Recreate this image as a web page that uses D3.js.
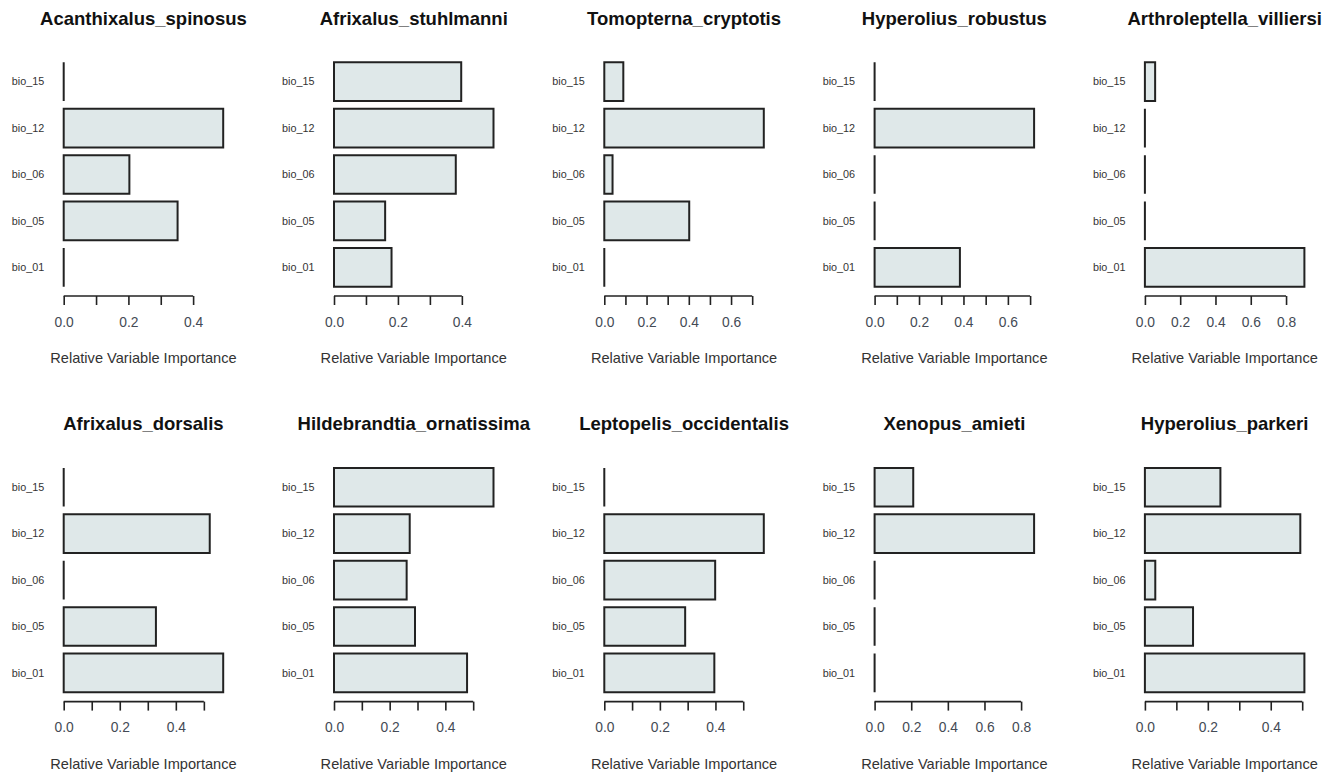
<!DOCTYPE html>
<html>
<head>
<meta charset="utf-8">
<script src="https://cdn.jsdelivr.net/npm/d3@7"></script>
<style>
  body { margin: 0; background: #fff; }
  text { font-family: "Liberation Sans", Arial, sans-serif; }
</style>
</head>
<body>
<div id="chart"></div>
<script>
// variables, top to bottom
var variables = ["bio_15", "bio_12", "bio_06", "bio_05", "bio_01"];

var species = [
  "Acanthixalus_spinosus", "Afrixalus_stuhlmanni", "Tomopterna_cryptotis",
  "Hyperolius_robustus", "Arthroleptella_villiersi",
  "Afrixalus_dorsalis", "Hildebrandtia_ornatissima", "Leptopelis_occidentalis",
  "Xenopus_amieti", "Hyperolius_parkeri"
];

// importance per species, same order as variables
var importance = [
  [0.000, 0.493, 0.203, 0.352, 0.000],
  [0.398, 0.499, 0.381, 0.160, 0.180],
  [0.090, 0.755, 0.039, 0.402, 0.000],
  [0.000, 0.718, 0.000, 0.000, 0.384],
  [0.058, 0.000, 0.000, 0.000, 0.904],
  [0.000, 0.521, 0.000, 0.329, 0.569],
  [0.573, 0.272, 0.261, 0.291, 0.478],
  [0.000, 0.574, 0.399, 0.291, 0.396],
  [0.211, 0.871, 0.000, 0.000, 0.000],
  [0.240, 0.494, 0.033, 0.153, 0.507]
];

// axis ticks per panel
var ticks = [
  [0, 0.1, 0.2, 0.3, 0.4],
  [0, 0.1, 0.2, 0.3, 0.4],
  [0, 0.1, 0.2, 0.3, 0.4, 0.5, 0.6, 0.7],
  [0, 0.1, 0.2, 0.3, 0.4, 0.5, 0.6, 0.7],
  [0, 0.2, 0.4, 0.6, 0.8],
  [0, 0.1, 0.2, 0.3, 0.4, 0.5],
  [0, 0.1, 0.2, 0.3, 0.4, 0.5],
  [0, 0.1, 0.2, 0.3, 0.4, 0.5],
  [0, 0.2, 0.4, 0.6, 0.8],
  [0, 0.1, 0.2, 0.3, 0.4, 0.5]
];

var W = 1336, H = 774;
var plotW = 159.5;
var colStep = 270.3, rowStep = 405.6;

var svg = d3.select("#chart").append("svg")
    .attr("width", W)
    .attr("height", H);

species.forEach(function(name, i) {
  var col = i % 5, row = Math.floor(i / 5);
  var g = svg.append("g")
      .attr("transform", "translate(" + (63.7 + col * colStep) + "," + (row * rowStep) + ")");

  var vals = importance[i];
  var x = d3.scaleLinear()
      .domain([0, d3.max(vals)])
      .range([0, plotW]);

  var y = d3.scaleBand()
      .domain(variables)
      .range([62.3, 286.7])
      .paddingInner(0.2 / 1.2)
      .paddingOuter(0);

  // bars as paths so zero values still show as a line
  g.selectAll(".bar")
      .data(variables)
      .enter().append("path")
      .attr("class", "bar")
      .attr("d", function(d, j) {
        var x0 = x(0), x1 = x(vals[j]), y0 = y(d), y1 = y(d) + y.bandwidth();
        return "M" + x0 + "," + y0 + "H" + x1 + "V" + y1 + "H" + x0 + "Z";
      })
      .attr("fill", "#dfe8e9")
      .attr("stroke", "#222")
      .attr("stroke-width", 2);

  // variable labels
  g.selectAll(".ylab")
      .data(variables)
      .enter().append("text")
      .attr("class", "ylab")
      .attr("x", -19.5)
      .attr("y", function(d) { return y(d) + y.bandwidth() / 2; })
      .attr("dy", "0.35em")
      .attr("text-anchor", "end")
      .attr("font-size", 10.8)
      .attr("fill", "#333")
      .text(function(d) { return d; });

  // x axis
  var xAxis = d3.axisBottom(x)
      .tickValues(ticks[i])
      .tickSize(9)
      .tickSizeOuter(0)
      .tickPadding(12)
      .tickFormat(function(d) {
        return Math.round(d * 10) % 2 === 0 ? d3.format(".1f")(d) : "";
      });

  var ax = g.append("g")
      .attr("transform", "translate(0,296)")
      .call(xAxis);
  ax.select(".domain")
      .attr("d", "M0,0H" + x(d3.max(ticks[i])))
      .attr("stroke", "#222")
      .attr("stroke-width", 1.6);
  ax.selectAll(".tick line")
      .attr("stroke", "#222")
      .attr("stroke-width", 1.6);
  ax.selectAll(".tick text")
      .attr("font-size", 13.8)
      .attr("font-family", "Liberation Sans, Arial, sans-serif")
      .attr("fill", "#444a55");

  g.append("text")
      .attr("x", plotW / 2)
      .attr("y", 363.3)
      .attr("text-anchor", "middle")
      .attr("font-size", 14.6)
      .attr("fill", "#333")
      .text("Relative Variable Importance");

  g.append("text")
      .attr("x", plotW / 2)
      .attr("y", 24.5)
      .attr("text-anchor", "middle")
      .attr("font-size", 18.5)
      .attr("font-weight", "bold")
      .attr("fill", "#111")
      .text(name);
});
</script>
</body>
</html>
